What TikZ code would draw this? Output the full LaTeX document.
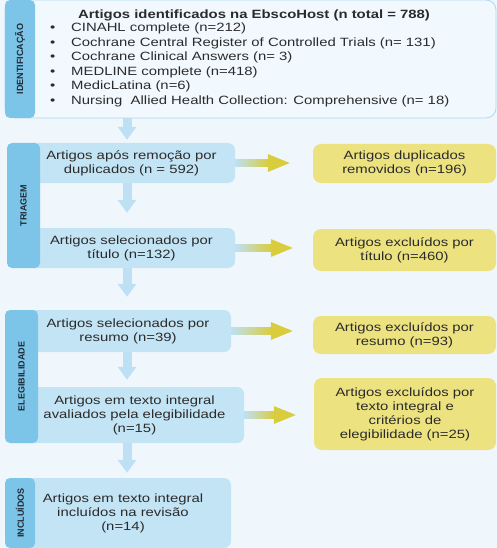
\documentclass[tikz,border=0pt]{standalone}
\usepackage{fontspec}
\setmainfont[FakeStretch=1.24]{Liberation Sans}
\newfontfamily\labelfont{Liberation Sans}
\usetikzlibrary{calc,arrows.meta}
\definecolor{bgc}{HTML}{EFF7FD}
\definecolor{topfill}{HTML}{F2F9FE}
\definecolor{topborder}{HTML}{AAD8F0}
\definecolor{stripc}{HTML}{7DC5E8}
\definecolor{boxblue}{HTML}{C3E4F5}
\definecolor{yelc}{HTML}{EDE280}
\definecolor{arrblue}{HTML}{BEE0F4}
\definecolor{arryel}{HTML}{D9CD3E}
\definecolor{txtc}{HTML}{2B2B2B}
\definecolor{labc}{HTML}{1E2A36}
\newcommand\sidearrow[3]{%
  \coordinate (sa) at (#1.east);
  \coordinate (tp) at ($(#2.west |- #1.east)+(-#3,0)$);
  \coordinate (hb) at ($(tp)+(-22,0)$);
  \shade[left color=arrblue, middle color=arrblue!55!arryel, right color=arryel]
    ($(sa)+(0,-3.5)$) rectangle ($(hb)+(0.5,3.5)$);
  \fill[arryel] ($(hb)+(0,-9)$) -- (tp) -- ($(hb)+(0,9)$) -- cycle;
}
\begin{document}
\begin{tikzpicture}[x=1pt,y=-1pt,
  txt/.style={font=\fontsize{12}{14}\selectfont, text=txtc},
  bluebox/.style={txt, fill=boxblue, rounded corners=7pt, inner sep=0pt, align=center},
  yelbox/.style={txt, fill=yelc, rounded corners=8pt, inner sep=0pt, align=center},
  stripbox/.style={fill=stripc, rounded corners=5pt, inner sep=0pt, rotate=90,
    font=\labelfont\bfseries\fontsize{9}{10}\selectfont, text=labc},
  downarr/.style={draw=arrblue, line width=9pt, -{Triangle[width=18pt,length=13pt]}},
]
\useasboundingbox (0,0) rectangle (497,548);
\fill[bgc] (0,0) rectangle (497,548);

% identification box
\node[draw=topborder, fill=topfill, line width=0.8pt, rounded corners=10pt,
  minimum width=491pt, minimum height=118pt, inner sep=0pt] (id) at (250.5,59) {};
\node[stripbox, minimum width=118pt, minimum height=30pt] (sId) at (20,59) {IDENTIFICAÇÃO};
\node[txt, font=\fontsize{12}{14}\selectfont\bfseries, anchor=base, inner sep=0pt] (title) at (254,19)
  {Artigos identificados na EbscoHost (n total = 788)};
\foreach \t [count=\i] in {{CINAHL complete (n=212)},
  {Cochrane Central Register of Controlled Trials (n= 131)},
  {Cochrane Clinical Answers (n= 3)},
  {MEDLINE complete (n=418)},
  {MedicLatina (n=6)},
  {Nursing~ Allied Health Collection: Comprehensive (n= 18)}}{
  \node[txt, anchor=base west, inner sep=0pt] (b\i) at (50,{32+14.5*(\i-1)}) {•};
  \node[txt, anchor=base west, inner sep=0pt] (l\i) at (71,{32+14.5*(\i-1)}) {\t};
}

% boxes
\node[bluebox, minimum width=207pt, minimum height=40pt] (t1) at (131.5,163) {Artigos após remoção por\\duplicados (n = 592)};
\node[bluebox, minimum width=207pt, minimum height=40pt] (t2) at (131.5,248) {Artigos selecionados por\\título (n=132)};
\node[bluebox, minimum width=206pt, minimum height=42pt] (e1) at (128,331) {Artigos selecionados por\\resumo (n=39)};
\node[bluebox, minimum width=219pt, minimum height=56pt] (e2) at (134.5,415) {Artigos em texto integral\\avaliados pela elegibilidade\\(n=15)};
\node[bluebox, minimum width=216pt, minimum height=70pt] (i1) at (123,513) {Artigos em texto integral\\incluídos na revisão\\(n=14)};

\node[stripbox, minimum width=125pt, minimum height=33pt] (sTr) at (23.5,205.5) {TRIAGEM};
\node[stripbox, minimum width=133pt, minimum height=33pt] (sEl) at (21.5,376.5) {ELEGIBILIDADE};
\node[stripbox, minimum width=70pt, minimum height=30pt] (sIn) at (20,513) {INCLUÍDOS};

\node[yelbox, minimum width=183pt, minimum height=39pt] (y1) at (404.5,163.5) {Artigos duplicados\\removidos (n=196)};
\node[yelbox, minimum width=183pt, minimum height=42pt] (y2) at (404.5,250) {Artigos excluídos por\\título (n=460)};
\node[yelbox, minimum width=183pt, minimum height=38pt] (y3) at (404.5,335) {Artigos excluídos por\\resumo (n=93)};
\node[yelbox, minimum width=182pt, minimum height=72pt] (y4) at (405,414) {Artigos excluídos por\\texto integral e\\critérios de\\elegibilidade (n=25)};

% vertical arrows
\coordinate (ax) at (127,0);
\draw[downarr, shorten >=3pt] (id.south -| ax) -- (t1.north -| ax);
\draw[downarr, shorten >=15pt] (t1.south -| ax) -- (t2.north -| ax);
\draw[downarr, shorten >=13pt] (t2.south -| ax) -- (e1.north -| ax);
\draw[downarr, shorten >=7pt] (e1.south -| ax) -- (e2.north -| ax);
\draw[downarr, shorten >=5pt] (e2.south -| ax) -- (i1.north -| ax);

% side arrows
\sidearrow{t1}{y1}{23}
\sidearrow{t2}{y2}{20}
\sidearrow{e1}{y3}{20}
\sidearrow{e2}{y4}{18}
\end{tikzpicture}
\end{document}
